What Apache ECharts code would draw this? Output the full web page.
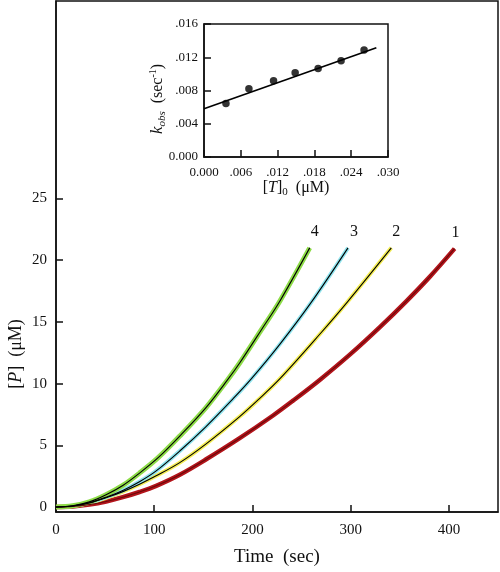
<!DOCTYPE html>
<html><head><meta charset="utf-8">
<script src="https://cdn.jsdelivr.net/npm/echarts@6/dist/echarts.min.js"></script>
<style>html,body{margin:0;padding:0;background:#fff}#c{width:500px;height:572px}</style>
</head><body><div id="c"></div>
<script>
// ---- main panel data: product [P] (uM) vs time (sec) ----
const time1 = [0, 17, 34, 51, 68, 85, 102, 126, 152.5, 187, 221, 241, 268.5, 300, 330, 356.6, 380, 405.8];
const p1    = [0, 0.05, 0.2, 0.45, 0.8, 1.22, 1.72, 2.62, 3.85, 5.58, 7.42, 8.6, 10.3, 12.41, 14.6, 16.67, 18.61, 20.94];
const time2 = [0, 17, 34, 51, 68, 85, 102, 126, 152.5, 187, 206, 228, 268.5, 297, 341.4];
const p2    = [0, 0.08, 0.33, 0.75, 1.25, 1.85, 2.53, 3.6, 5.1, 7.33, 8.7, 10.4, 14.0, 16.65, 21.0];
const time3 = [0, 17, 34, 51, 68, 85, 102, 126, 152.5, 180, 199, 228, 260, 297.3];
const p3    = [0, 0.09, 0.35, 0.8, 1.35, 2.05, 2.93, 4.54, 6.5, 8.75, 10.4, 13.2, 16.6, 21.0];
const time4 = [0, 17, 34, 51, 68, 85, 104, 126, 152.5, 174.6, 187, 209, 228, 258.3];
const p4    = [0, 0.1, 0.42, 1.0, 1.75, 2.75, 4.0, 5.75, 8.04, 10.3, 11.67, 14.35, 16.7, 21.0];
const curveLabels = ['1', '2', '3', '4'];
const xTicks = [0, 100, 200, 300, 400];
const yTicks = [0, 5, 10, 15, 20, 25];

// ---- inset data: k_obs (sec^-1) vs [T]0 (uM) ----
const insetConc = [0.00358, 0.00732, 0.01134, 0.01486, 0.01861, 0.02235, 0.0261];
const insetK    = [0.00643, 0.0082, 0.00917, 0.01013, 0.01065, 0.01158, 0.01286];
const fitConc = [0, 0.0281];
const fitK    = [0.0058, 0.01315];

const zip = (a, b) => a.map((v, i) => [v, b[i]]);
const FONT = 'Liberation Serif';
const colors = ['#b3141b', '#f4ee55', '#8fe4ee', '#8ddc48'];
const widths = [4.5, 4, 4, 5];
const times = [time1, time2, time3, time4];
const ps = [p1, p2, p3, p4];
const labelDx = [1, 5, 6, 5];

const series = [];
for (let i = 0; i < 4; i++) {
  series.push({
    type: 'line', xAxisIndex: 0, yAxisIndex: 0, data: zip(times[i], ps[i]),
    smooth: 0.35, showSymbol: false, silent: true,
    lineStyle: { color: colors[i], width: widths[i] }, z: 2
  });
}
for (let i = 0; i < 4; i++) {
  const n = times[i].length - 1;
  series.push({
    type: 'line', xAxisIndex: 0, yAxisIndex: 0, data: zip(times[i], ps[i]),
    smooth: 0.35, showSymbol: false, silent: true,
    lineStyle: { color: i === 0 ? '#6a0a0a' : '#000', width: 1.1 }, z: 3,
    markPoint: {
      symbol: 'circle', symbolSize: 0, silent: true,
      data: [{ coord: [times[i][n], ps[i][n]] }],
      label: { show: true, position: 'top', distance: 8, offset: [labelDx[i], 0],
               formatter: curveLabels[i], fontFamily: FONT, fontSize: 16, color: '#111' }
    }
  });
}
series.push({
  type: 'line', xAxisIndex: 1, yAxisIndex: 1, data: zip(fitConc, fitK),
  showSymbol: false, silent: true, lineStyle: { color: '#000', width: 1.6 }, z: 5
});
series.push({
  type: 'scatter', xAxisIndex: 1, yAxisIndex: 1, data: zip(insetConc, insetK),
  symbol: 'circle', symbolSize: 7.5, itemStyle: { color: '#000' }, silent: true, z: 6
});

const insetFmt = v => (Math.abs(v) < 1e-9 ? '0.000' : v.toFixed(3).replace(/^0/, ''));
const axisCommon = {
  axisLine: { show: true, onZero: false, lineStyle: { color: '#111', width: 1.5 } },
  axisTick: { show: true, inside: true, length: 7, lineStyle: { color: '#111', width: 1.5 } },
  splitLine: { show: false }
};

const chart = echarts.init(document.getElementById('c'), null, { renderer: 'canvas' });
chart.setOption({
  animation: false,
  backgroundColor: '#fff',
  grid: [
    { left: 56, top: 1, right: 2, bottom: 59, show: true, borderColor: '#111', borderWidth: 1.5, backgroundColor: '#fff' },
    { left: 204, top: 24, width: 184, height: 133, show: true, borderColor: '#111', borderWidth: 1.5, backgroundColor: '#fff', z: 4 }
  ],
  xAxis: [
    Object.assign({}, axisCommon, {
      type: 'value', gridIndex: 0, min: 0, max: 450,
      axisLabel: { customValues: xTicks, fontFamily: FONT, fontSize: 15, color: '#111', margin: 11 },
      axisTick: Object.assign({}, axisCommon.axisTick, { customValues: xTicks }),
      name: 'Time  (sec)', nameLocation: 'middle', nameGap: 36,
      nameTextStyle: { fontFamily: FONT, fontSize: 19, color: '#111' }
    }),
    Object.assign({}, axisCommon, {
      type: 'value', gridIndex: 1, min: 0, max: 0.03, interval: 0.006,
      axisLabel: { formatter: insetFmt, fontFamily: FONT, fontSize: 13, color: '#111', margin: 9 },
      z: 5
    })
  ],
  yAxis: [
    Object.assign({}, axisCommon, {
      type: 'value', gridIndex: 0, min: -0.4, max: 41,
      axisLabel: { customValues: yTicks, fontFamily: FONT, fontSize: 15, color: '#111', margin: 9 },
      axisTick: Object.assign({}, axisCommon.axisTick, { customValues: yTicks })
    }),
    Object.assign({}, axisCommon, {
      type: 'value', gridIndex: 1, min: 0, max: 0.016, interval: 0.004,
      axisLabel: { formatter: insetFmt, fontFamily: FONT, fontSize: 13, color: '#111', margin: 6 },
      z: 5
    })
  ],
  graphic: [
    {
      type: 'text', x: 16, y: 354, rotation: Math.PI / 2, z: 10,
      style: {
        text: '{n|[}{i|P}{n|]  (μM)}', align: 'center', verticalAlign: 'middle', fill: '#111',
        rich: {
          n: { fontFamily: FONT, fontSize: 18, fill: '#111', lineHeight: 20 },
          i: { fontFamily: FONT, fontSize: 18, fontStyle: 'italic', fill: '#111', lineHeight: 20 }
        }
      }
    },
    {
      type: 'text', x: 158, y: 99, rotation: Math.PI / 2, z: 10,
      style: {
        text: '{i|k}{sub|obs}{n|  (sec}{sup|-1}{n|)}', align: 'center', verticalAlign: 'middle', fill: '#111',
        rich: {
          n: { fontFamily: FONT, fontSize: 16, fill: '#111', lineHeight: 20 },
          i: { fontFamily: FONT, fontSize: 17, fontStyle: 'italic', fill: '#111', lineHeight: 20 },
          sub: { fontFamily: FONT, fontSize: 11, fontStyle: 'italic', fill: '#111', lineHeight: 11, verticalAlign: 'bottom' },
          sup: { fontFamily: FONT, fontSize: 10, fill: '#111', lineHeight: 10, verticalAlign: 'top' }
        }
      }
    },
    {
      type: 'text', x: 296, y: 188, z: 10,
      style: {
        text: '{n|[}{i|T}{n|]}{sub|0}{n|  (μM)}', align: 'center', verticalAlign: 'middle', fill: '#111',
        rich: {
          n: { fontFamily: FONT, fontSize: 16, fill: '#111', lineHeight: 20 },
          i: { fontFamily: FONT, fontSize: 16, fontStyle: 'italic', fill: '#111', lineHeight: 20 },
          sub: { fontFamily: FONT, fontSize: 11, fill: '#111', lineHeight: 11, verticalAlign: 'bottom' }
        }
      }
    }
  ],
  series: series
});
</script>
</body></html>
